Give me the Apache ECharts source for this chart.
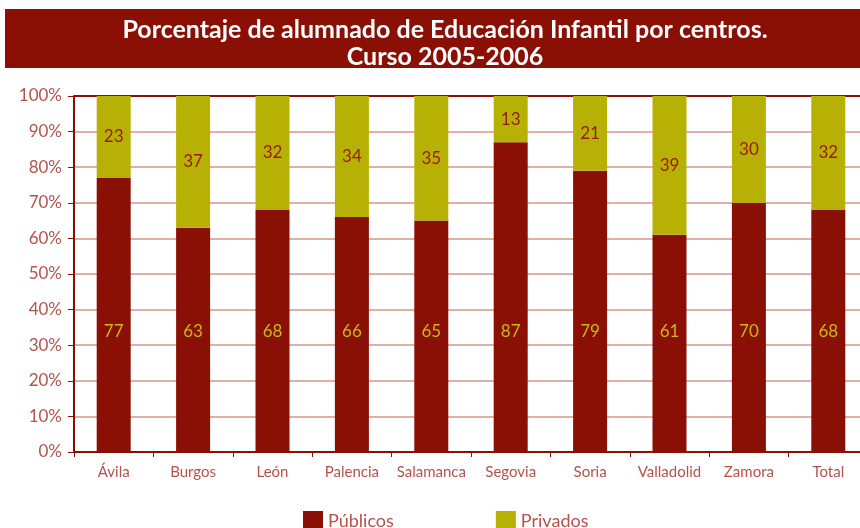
<!DOCTYPE html>
<html>
<head>
<meta charset="utf-8">
<script src="https://cdn.jsdelivr.net/npm/echarts@6/dist/echarts.min.js"></script>
<style>
  html, body { margin: 0; padding: 0; background: #fff; }
  #chart { width: 860px; height: 528px; }
</style>
</head>
<body>
<div id="chart"></div>
<script>
const provincias = ['Ávila', 'Burgos', 'León', 'Palencia', 'Salamanca', 'Segovia', 'Soria', 'Valladolid', 'Zamora', 'Total'];
const publicos = [77, 63, 68, 66, 65, 87, 79, 61, 70, 68];
const privados = [23, 37, 32, 34, 35, 13, 21, 39, 30, 32];

const rojo = '#8a1005';
const oliva = '#b8b105';
const texto = '#b4524c';
const rejilla = '#dfb0a6';

const chart = echarts.init(document.getElementById('chart'));

chart.setOption({
    animation: false,
    textStyle: { fontFamily: 'Lato' },
    graphic: [{
        type: 'rect',
        left: 5, top: 9,
        shape: { width: 855, height: 59 },
        style: { fill: rojo },
        z: 0
    }],
    title: {
        text: 'Porcentaje de alumnado de Educación Infantil por centros.\nCurso 2005-2006',
        left: 440,
        textAlign: 'center',
        top: 11,
        textStyle: {
            color: '#fff',
            fontSize: 25,
            fontWeight: 'bold',
            fontFamily: 'Lato',
            lineHeight: 27
        },
        z: 10
    },
    grid: { left: 74, top: 96, width: 794, height: 356, outerBoundsMode: 'none' },
    legend: {
        bottom: -8,
        left: 298,
        itemWidth: 20,
        itemHeight: 20,
        itemGap: 102,
        icon: 'rect',
        textStyle: { color: texto, fontSize: 18, fontFamily: 'Lato' },
        data: ['Públicos', 'Privados']
    },
    xAxis: {
        type: 'category',
        data: provincias,
        axisLine: { lineStyle: { color: rojo, width: 2 } },
        axisTick: { show: true, length: 5, lineStyle: { color: rojo } },
        axisLabel: { color: texto, fontSize: 15, margin: 13, interval: 0 },
        splitLine: { show: false }
    },
    yAxis: {
        type: 'value',
        min: 0, max: 100, interval: 10,
        axisLine: { show: true, lineStyle: { color: rojo, width: 2 } },
        axisTick: { show: true, length: 6, lineStyle: { color: rojo } },
        axisLabel: { color: texto, fontSize: 17, margin: 12, formatter: '{value}%' },
        splitLine: {
            show: true,
            lineStyle: {
                width: 2,
                color: [rejilla, rejilla, rejilla, rejilla, rejilla, rejilla, rejilla, rejilla, rejilla, rejilla, rojo]
            }
        }
    },
    series: [{
        name: 'Públicos',
        type: 'bar',
        stack: 'total',
        data: publicos,
        barWidth: 34,
        itemStyle: { color: rojo },
        label: {
            show: true,
            position: 'insideBottom',
            distance: 112,
            color: '#c9b812',
            fontSize: 17
        }
    }, {
        name: 'Privados',
        type: 'bar',
        stack: 'total',
        data: privados,
        barWidth: 34,
        itemStyle: { color: oliva },
        label: {
            show: true,
            position: 'inside',
            color: '#9a1a0a',
            fontSize: 17
        }
    }]
});
</script>
</body>
</html>
